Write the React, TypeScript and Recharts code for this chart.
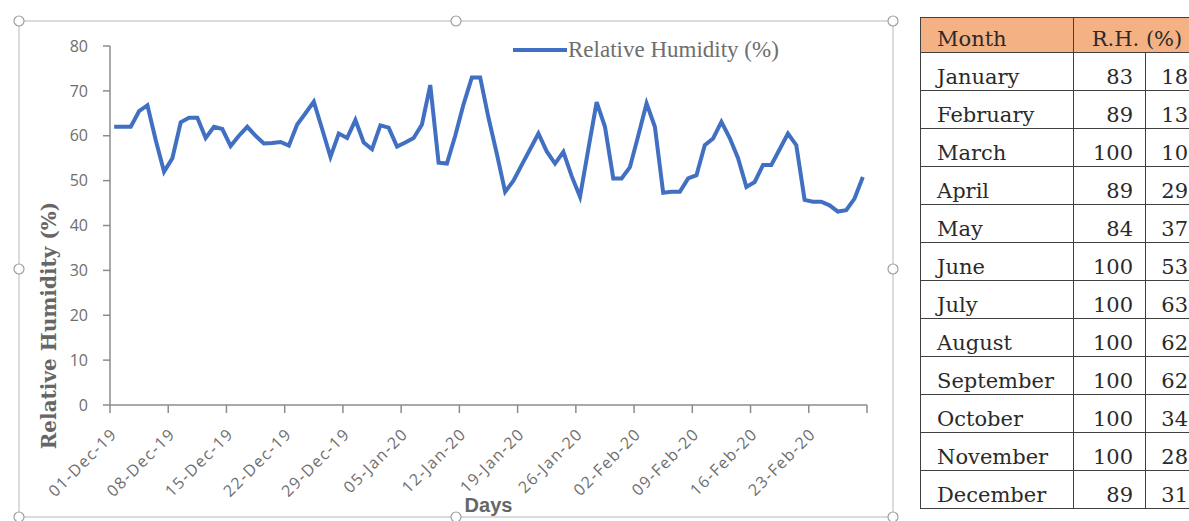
import { LineChart, Line, XAxis, YAxis, Label } from 'recharts'

// daily relative humidity, 01-Dec-19 .. 29-Feb-20
const humidity = [
  62, 62, 62, 65.5, 66.8, 59, 52, 55, 63, 64,
  64, 59.5, 62, 61.5, 57.7, 60, 62, 60, 58.3, 58.4,
  58.6, 57.8, 62.5, 65, 67.6, 61.5, 55.3, 60.5, 59.5, 63.5,
  58.5, 57, 62.3, 61.8, 57.6, 58.5, 59.5, 62.5, 71.3, 54,
  53.8, 60, 67, 73, 73, 64, 56, 47.5, 50, 53.5,
  57, 60.5, 56.5, 53.8, 56.4, 51, 46.4, 57, 67.5, 62,
  50.5, 50.5, 53, 60, 67.2, 62, 47.3, 47.5, 47.5, 50.5,
  51.2, 57.9, 59.4, 63.1, 59.5, 55, 48.6, 49.7, 53.5, 53.5,
  57, 60.5, 57.9, 45.7, 45.3, 45.3, 44.5, 43.1, 43.4, 46,
  50.8,
]

const tickLabels = [
  '01-Dec-19', '08-Dec-19', '15-Dec-19', '22-Dec-19', '29-Dec-19', '05-Jan-20', '12-Jan-20',
  '19-Jan-20', '26-Jan-20', '02-Feb-20', '09-Feb-20', '16-Feb-20', '23-Feb-20',
]
const tickDays = [0, 7, 14, 21, 28, 35, 42, 49, 56, 63, 70, 77, 84, 91]
const yTicks = [0, 10, 20, 30, 40, 50, 60, 70, 80]

const months = [
  'January', 'February', 'March', 'April', 'May', 'June',
  'July', 'August', 'September', 'October', 'November', 'December',
]
const rhMax = [83, 89, 100, 89, 84, 100, 100, 100, 100, 100, 100, 89]
const rhMin = [18, 13, 10, 29, 37, 53, 63, 62, 62, 34, 28, 31]

const SERIES = 'Relative Humidity (%)'
const BLUE = '#4170c2'
const AXIS = '#8c8c8c'
const TEXT = '#6e6e6e'

// points sit in the middle of each day slot on the date axis
const chartData = humidity.map((v, i) => ({ day: i + 0.5, rh: v }))

function DateTick({ x, y, payload }: any) {
  const label = tickLabels[Math.round(payload.value / 7)]
  if (!label) return null
  return (
    <g transform={`translate(${x},${y})`}>
      <text
        x={8}
        y={20}
        textAnchor="end"
        transform="rotate(-45 8 20)"
        fill={TEXT}
        fontFamily="Open Sans"
        fontSize={16}
        letterSpacing={1.5}
      >
        {label}
      </text>
    </g>
  )
}

function YTitle({ viewBox }: any) {
  const x = viewBox.x + 37
  const y = viewBox.y + viewBox.height / 2 + 100
  return (
    <text
      x={x}
      y={y}
      transform={`rotate(-90 ${x} ${y})`}
      textAnchor="middle"
      fill="#666"
      fontFamily="DejaVu Serif"
      fontWeight="bold"
      fontSize={20}
    >
      {SERIES}
    </text>
  )
}

// selection frame with grab handles around the chart area
const frame = { x1: 19, y1: 21, x2: 893, y2: 517 }
const handles = [
  [frame.x1, frame.y1], [(frame.x1 + frame.x2) / 2, frame.y1], [frame.x2, frame.y1],
  [frame.x1, (frame.y1 + frame.y2) / 2], [frame.x2, (frame.y1 + frame.y2) / 2],
  [frame.x1, frame.y2], [(frame.x1 + frame.x2) / 2, frame.y2], [frame.x2, frame.y2],
]

const cell: React.CSSProperties = {
  border: '1px solid #404040',
  fontFamily: 'DejaVu Serif',
  fontSize: 21,
  color: '#2a2a2a',
  verticalAlign: 'bottom',
  padding: '0 0 2px 0',
  lineHeight: 1.05,
  whiteSpace: 'nowrap',
}

export default function App() {
  return (
    <div
      style={{
        position: 'absolute',
        left: 0,
        top: 0,
        width: 1189,
        height: 521,
        overflow: 'hidden',
        background: '#fff',
      }}
    >
      <div style={{ position: 'absolute', left: frame.x1, top: frame.y1 }}>
        <LineChart
          width={frame.x2 - frame.x1}
          height={frame.y2 - frame.y1}
          data={chartData}
          margin={{ top: 25, right: 26, bottom: 0, left: 0 }}
        >
          <XAxis
            type="number"
            dataKey="day"
            domain={[0, 91]}
            ticks={tickDays}
            interval={0}
            height={112}
            tickSize={8}
            stroke={AXIS}
            strokeWidth={1.5}
            tick={<DateTick />}
          >
            <Label
              value="Days"
              position="insideBottom"
              offset={5}
              fill="#666"
              fontFamily="Liberation Sans"
              fontWeight="bold"
              fontSize={20}
            />
          </XAxis>
          <YAxis
            domain={[0, 80]}
            ticks={yTicks}
            width={91}
            tickSize={7}
            tickMargin={15}
            stroke={AXIS}
            strokeWidth={1.5}
            tick={{ fill: TEXT, fontFamily: 'Open Sans', fontSize: 16 }}
          >
            <Label content={<YTitle />} />
          </YAxis>
          <Line
            type="linear"
            dataKey="rh"
            name={SERIES}
            stroke={BLUE}
            strokeWidth={4}
            dot={false}
            isAnimationActive={false}
          />
        </LineChart>
      </div>

      {/* legend, top centre of the chart area */}
      <div
        style={{
          position: 'absolute',
          left: 513,
          top: 36,
          height: 28,
          display: 'flex',
          alignItems: 'center',
        }}
      >
        <svg width={54} height={10}>
          <line x1={0} y1={5} x2={54} y2={5} stroke={BLUE} strokeWidth={4} />
        </svg>
        <span style={{ fontFamily: 'Liberation Serif', fontSize: 23, color: TEXT, marginLeft: 1 }}>
          {SERIES}
        </span>
      </div>

      <svg
        width={1189}
        height={521}
        style={{ position: 'absolute', left: 0, top: 0, pointerEvents: 'none' }}
      >
        <rect
          x={frame.x1}
          y={frame.y1}
          width={frame.x2 - frame.x1}
          height={frame.y2 - frame.y1}
          fill="none"
          stroke="#c4c4c4"
          strokeWidth={1.2}
        />
        {handles.map(([cx, cy], i) => (
          <circle key={i} cx={cx} cy={cy} r={5} fill="#fff" stroke="#a0a0a0" strokeWidth={1.2} />
        ))}
      </svg>

      <table
        style={{
          position: 'absolute',
          left: 920,
          top: 17,
          borderCollapse: 'collapse',
          tableLayout: 'fixed',
          width: 280,
        }}
      >
        <colgroup>
          <col style={{ width: 153 }} />
          <col style={{ width: 72 }} />
          <col style={{ width: 55 }} />
        </colgroup>
        <thead>
          <tr style={{ height: 35, background: '#F4B183' }}>
            <th style={{ ...cell, fontWeight: 'normal', textAlign: 'left', paddingLeft: 16 }}>Month</th>
            <th colSpan={2} style={{ ...cell, fontWeight: 'normal', textAlign: 'center' }}>R.H. (%)</th>
          </tr>
        </thead>
        <tbody>
          {months.map((m, i) => (
            <tr key={m} style={{ height: 38 }}>
              <td style={{ ...cell, textAlign: 'left', paddingLeft: 16 }}>{m}</td>
              <td style={{ ...cell, textAlign: 'right', paddingRight: 12 }}>{rhMax[i]}</td>
              <td style={{ ...cell, textAlign: 'right', paddingRight: 12 }}>{rhMin[i]}</td>
            </tr>
          ))}
        </tbody>
      </table>
    </div>
  )
}
